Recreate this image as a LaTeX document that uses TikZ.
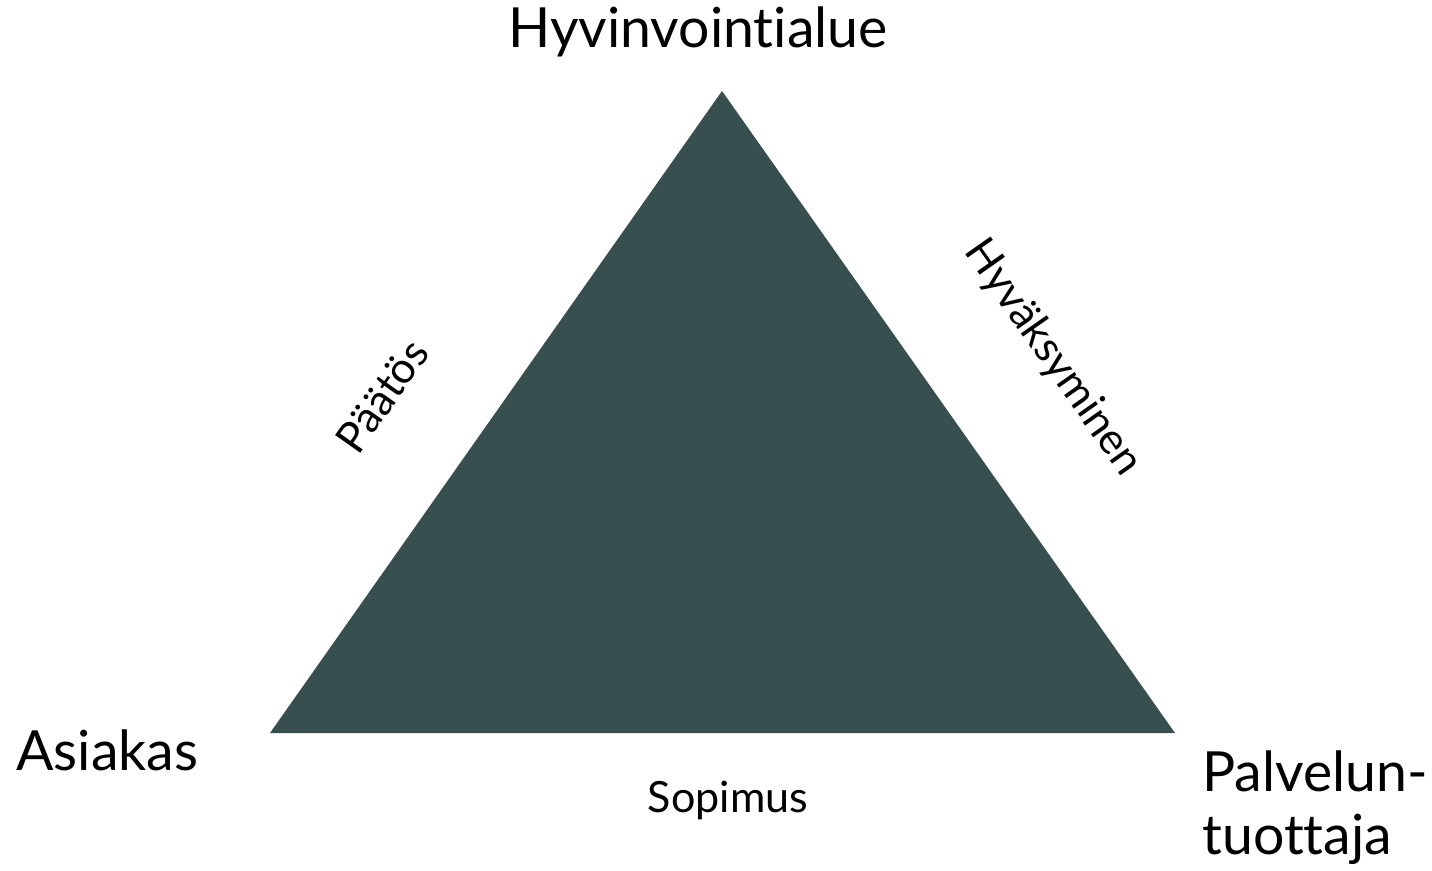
\documentclass[tikz,border=0pt]{standalone}
\usepackage{fontspec}
\setmainfont{Lato}[Ligatures={NoCommon}]
\definecolor{kolmio}{HTML}{374F4F}
\begin{document}
\begin{tikzpicture}[x=0.02cm, y=-0.02cm]
	% Kehys
	\useasboundingbox (0,0) rectangle (1432,870);
	\tikzset{
		isoteksti/.style={font=\fontsize{31.5}{36}\selectfont, inner sep=0pt},
		pieniteksti/.style={font=\fontsize{24.5}{28}\selectfont, inner sep=0pt}
	}
	% Kolmion kärjet
	\path
	(722,91) coordinate (HA)
	(270,733) coordinate (AS)
	(1175,733) coordinate (PT);
	% Kolmio
	\fill[kolmio] (HA) -- (AS) -- (PT) -- cycle;
	% Osapuolet
	\node[isoteksti] (hyvinvointialue) at (698,32) {Hyvinvointialue};
	\node[isoteksti, anchor=west] (asiakas) at (16,750) {Asiakas};
	\node[isoteksti, anchor=west, align=left] (palveluntuottaja) at (1202,808) {Palvelun-\\tuottaja};
	% Suhteet
	\node[pieniteksti] (sopimus) at (728,800) {Sopimus};
	\node[pieniteksti, rotate=54.85] (paatos) at (382,396) {Päätös};
	\node[pieniteksti, rotate=-54.85] (hyvaksyminen) at (1053,358) {Hyväksyminen};
\end{tikzpicture}
\end{document}
